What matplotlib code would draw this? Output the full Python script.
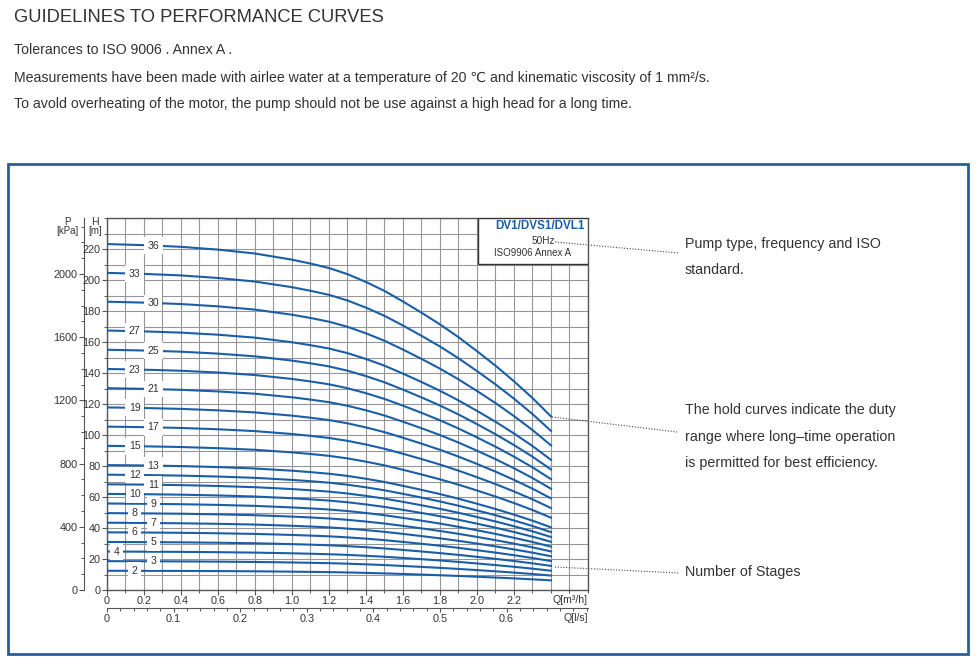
import matplotlib.pyplot as plt
import numpy as np
from matplotlib.ticker import MultipleLocator
from matplotlib.patches import Rectangle
from matplotlib.lines import Line2D

# Data
# flow points (m3/h) and head of one stage (m), taken from the 36 stage curve
q_m3h = [0, 0.2, 0.4, 0.6, 0.8, 1.0, 1.1, 1.2, 1.3, 1.4, 1.5, 1.6, 1.7, 1.8,
         1.9, 2.0, 2.1, 2.2, 2.3, 2.4]
head_per_stage = [6.20, 6.18, 6.15, 6.10, 6.03, 5.92, 5.85, 5.77, 5.66, 5.52, 5.36,
                  5.17, 4.97, 4.76, 4.53, 4.28, 4.02, 3.74, 3.44, 3.11]
stages = [2, 3, 4, 5, 6, 7, 8, 9, 10, 11, 12, 13, 15, 17, 19, 21, 23, 25, 27, 30, 33, 36]
label_q = [0.15, 0.25, 0.05, 0.25, 0.15, 0.25, 0.15, 0.25, 0.15, 0.25, 0.15,
           0.25, 0.15, 0.25, 0.15, 0.25, 0.15, 0.25, 0.15, 0.25, 0.15, 0.25]

h_ticks = list(range(0, 221, 20))
p_ticks = list(range(0, 2001, 400))
q_ticks = [0, 0.2, 0.4, 0.6, 0.8, 1.0, 1.2, 1.4, 1.6, 1.8, 2.0, 2.2]
qs_ticks = [0, 0.1, 0.2, 0.3, 0.4, 0.5, 0.6]

BLUE = '#1a5ea8'
GRID = '#959595'
TXT = '#333333'
AXC = '#555555'
plt.rcParams['font.family'] = ['Liberation Sans', 'DejaVu Sans']

W, H = 979, 667
fig = plt.figure(figsize=(W / 100, H / 100), dpi=100)


def fx(x):
    return x / W


def fy(y):
    return 1 - y / H


# page texts
fig.text(fx(14), fy(18), "GUIDELINES TO PERFORMANCE CURVES", fontsize=13.2,
         color=TXT, va='center', ha='left')
lines = ["Tolerances to ISO 9006 . Annex A .",
         "Measurements have been made with airlee water at a temperature of 20 \u2103 and kinematic viscosity of 1 mm\u00b2/s.",
         "To avold overheating of the motor, the pump should not be use against a high head for a long time."]
for txt, yy in zip(lines, [50, 78, 104]):
    fig.text(fx(14), fy(yy), txt, fontsize=10.2, color=TXT, va='center', ha='left')

# blue frame
fig.add_artist(Rectangle((fx(8), fy(654)), fx(960), 490 / H, transform=fig.transFigure,
                         fill=False, edgecolor='#2c5d9b', lw=2))

# main chart
ax = fig.add_axes([fx(107), 77 / H, 481 / W, 372 / H])
ax.set_xlim(0, 2.6)
ax.set_ylim(0, 240)
ax.xaxis.set_minor_locator(MultipleLocator(0.1))
ax.yaxis.set_minor_locator(MultipleLocator(10))
ax.set_xticks(q_ticks)
ax.set_xticklabels([f"{v:.1f}" if v in (1.0, 2.0) else f"{v:g}" for v in q_ticks])
ax.set_yticks(h_ticks)
ax.grid(which='both', color=GRID, lw=0.8)
ax.set_axisbelow(True)
for s in ax.spines.values():
    s.set_color(AXC)
    s.set_linewidth(1)
ax.tick_params(which='major', length=3.5, width=0.8, color=AXC, labelsize=7.8,
               labelcolor=TXT, pad=1)
ax.tick_params(which='minor', length=2.5, width=0.7, color=AXC)

q = np.array(q_m3h)
h1 = np.array(head_per_stage)
for n, lq in zip(stages, label_q):
    ax.plot(q, n * h1, color=BLUE, lw=1.5, zorder=3)
    ax.text(lq, n * np.interp(lq, q, h1), str(n), fontsize=7.6, color=TXT,
            ha='center', va='center', zorder=4,
            bbox=dict(boxstyle='square,pad=0.32', fc='white', ec='none'))

ax.text(2.6, -3.5, "Q[m\u00b3/h]", ha='right', va='top', fontsize=7.6, color=TXT)

# pressure axis
pax = ax.secondary_yaxis(-23 / 481, functions=(lambda h: h * 9.81, lambda p: p / 9.81))
pax.set_yticks(p_ticks)
pax.yaxis.set_minor_locator(MultipleLocator(100))
pax.spines['left'].set_color(AXC)
pax.tick_params(which='major', length=3.5, width=0.8, color=AXC, labelsize=7.8,
                labelcolor=TXT, pad=1)
pax.tick_params(which='minor', length=2, width=0.7, color=AXC)

# l/s axis
sax = ax.secondary_xaxis(-18 / 372, functions=(lambda x: x / 3.6, lambda x: x * 3.6))
sax.set_xticks(qs_ticks)
sax.set_xticklabels([f"{v:g}" for v in qs_ticks])
sax.xaxis.set_minor_locator(MultipleLocator(0.02))
sax.spines['bottom'].set_color(AXC)
sax.tick_params(which='major', length=3, width=0.8, color=AXC, labelsize=7.8,
                labelcolor=TXT, pad=1)
sax.tick_params(which='minor', length=1.8, width=0.7, color=AXC)
fig.text(fx(588), fy(618), "Q[l/s]", ha='right', va='center', fontsize=7.6, color=TXT)

# axis headers
fig.text(fx(67), fy(222), "P", ha='center', va='center', fontsize=7, color=TXT)
fig.text(fx(67), fy(231), "[kPa]", ha='center', va='center', fontsize=7, color=TXT)
fig.text(fx(95), fy(222), "H", ha='center', va='center', fontsize=7.6, color=TXT)
fig.text(fx(95), fy(231), "[m]", ha='center', va='center', fontsize=7, color=TXT)

# pump type box
ax.add_patch(Rectangle(((478 - 107) / 481, (590 - 264) / 372), (588 - 478) / 481,
                       46 / 372, transform=ax.transAxes, fc='white', ec='#333333',
                       lw=1, zorder=5))
fig.text(fx(585), fy(226), "DV1/DVS1/DVL1", ha='right', va='center', fontsize=8.4,
         fontweight='bold', color=BLUE, zorder=6)
fig.text(fx(543), fy(241), "50Hz", ha='center', va='center', fontsize=7.2, color=TXT, zorder=6)
fig.text(fx(533), fy(253), "ISO9906 Annex A", ha='center', va='center', fontsize=7,
         color=TXT, zorder=6)

# call-outs
callouts = [((555, 242), (678, 253), ["Pump type, frequency and ISO", "standard."], 244),
            ((552, 417), (677, 432), ["The hold curves indicate the duty",
                                      "range where long\u2013time operation",
                                      "is permitted for best efficiency."], 410),
            ((555, 567), (679, 573), ["Number of Stages"], 572)]
for p0, p1, txts, y0 in callouts:
    fig.add_artist(Line2D([fx(p0[0]), fx(p1[0])], [fy(p0[1]), fy(p1[1])],
                          transform=fig.transFigure, ls=(0, (1, 1.5)), lw=0.8,
                          color='#444444'))
    for i, t in enumerate(txts):
        fig.text(fx(685), fy(y0 + i * 26.5), t, ha='left', va='center', fontsize=10.3,
                 color=TXT)

fig.savefig("out.png", dpi=100)
